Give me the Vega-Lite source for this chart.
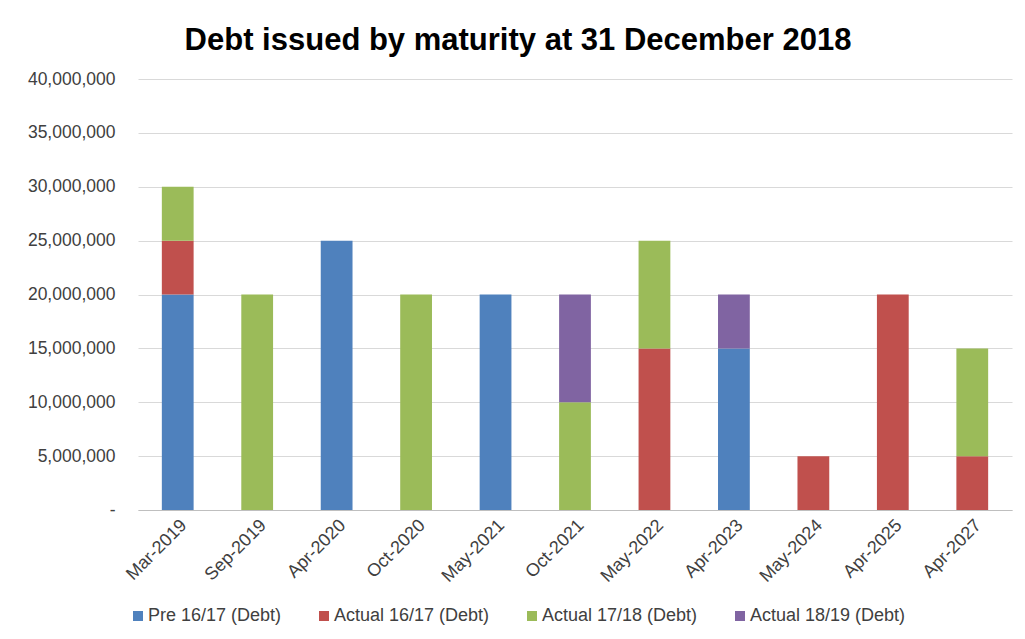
{
  "$schema": "https://vega.github.io/schema/vega-lite/v6.json",
  "width": 874,
  "height": 431,
  "autosize": {"type": "none"},
  "padding": {"left": 138, "top": 79, "right": 13, "bottom": 129},
  "background": "white",
  "title": {
    "text": "Debt issued by maturity at 31 December 2018",
    "font": "Liberation Sans",
    "fontSize": 31,
    "fontWeight": "bold",
    "color": "#000000",
    "anchor": "middle",
    "baseline": "alphabetic",
    "offset": 29,
    "dx": -57,
    "dy": 40
  },
  "data": {
    "values": [
      {"maturity": "Mar-2019", "series": "Pre 16/17 (Debt)", "ord": 1, "amount": 20000000},
      {"maturity": "Mar-2019", "series": "Actual 16/17 (Debt)", "ord": 2, "amount": 5000000},
      {"maturity": "Mar-2019", "series": "Actual 17/18 (Debt)", "ord": 3, "amount": 5000000},
      {"maturity": "Sep-2019", "series": "Actual 17/18 (Debt)", "ord": 3, "amount": 20000000},
      {"maturity": "Apr-2020", "series": "Pre 16/17 (Debt)", "ord": 1, "amount": 25000000},
      {"maturity": "Oct-2020", "series": "Actual 17/18 (Debt)", "ord": 3, "amount": 20000000},
      {"maturity": "May-2021", "series": "Pre 16/17 (Debt)", "ord": 1, "amount": 20000000},
      {"maturity": "Oct-2021", "series": "Actual 17/18 (Debt)", "ord": 3, "amount": 10000000},
      {"maturity": "Oct-2021", "series": "Actual 18/19 (Debt)", "ord": 4, "amount": 10000000},
      {"maturity": "May-2022", "series": "Actual 16/17 (Debt)", "ord": 2, "amount": 15000000},
      {"maturity": "May-2022", "series": "Actual 17/18 (Debt)", "ord": 3, "amount": 10000000},
      {"maturity": "Apr-2023", "series": "Pre 16/17 (Debt)", "ord": 1, "amount": 15000000},
      {"maturity": "Apr-2023", "series": "Actual 18/19 (Debt)", "ord": 4, "amount": 5000000},
      {"maturity": "May-2024", "series": "Actual 16/17 (Debt)", "ord": 2, "amount": 5000000},
      {"maturity": "Apr-2025", "series": "Actual 16/17 (Debt)", "ord": 2, "amount": 20000000},
      {"maturity": "Apr-2027", "series": "Actual 16/17 (Debt)", "ord": 2, "amount": 5000000},
      {"maturity": "Apr-2027", "series": "Actual 17/18 (Debt)", "ord": 3, "amount": 10000000}
    ]
  },
  "mark": {"type": "bar"},
  "encoding": {
    "x": {
      "field": "maturity",
      "type": "nominal",
      "sort": ["Mar-2019", "Sep-2019", "Apr-2020", "Oct-2020", "May-2021", "Oct-2021", "May-2022", "Apr-2023", "May-2024", "Apr-2025", "Apr-2027"],
      "scale": {"paddingInner": 0.6, "paddingOuter": 0.3},
      "axis": {
        "title": null,
        "labelAngle": -45,
        "labelFont": "Liberation Sans",
        "labelFontSize": 18,
        "labelColor": "#404040",
        "labelPadding": 6,
        "ticks": false,
        "domainColor": "#bfbfbf",
        "domainWidth": 1,
        "grid": false
      }
    },
    "y": {
      "field": "amount",
      "type": "quantitative",
      "aggregate": "sum",
      "stack": "zero",
      "scale": {"domain": [0, 40000000], "nice": false},
      "axis": {
        "title": null,
        "values": [0, 5000000, 10000000, 15000000, 20000000, 25000000, 30000000, 35000000, 40000000],
        "labelExpr": "datum.value == 0 ? '-' : format(datum.value, ',')",
        "labelFont": "Liberation Sans",
        "labelFontSize": 17.5,
        "labelColor": "#404040",
        "labelPadding": 23,
        "ticks": false,
        "domain": false,
        "grid": true,
        "gridColor": "#d9d9d9",
        "gridWidth": 1
      }
    },
    "color": {
      "field": "series",
      "type": "nominal",
      "scale": {
        "domain": ["Pre 16/17 (Debt)", "Actual 16/17 (Debt)", "Actual 17/18 (Debt)", "Actual 18/19 (Debt)"],
        "range": ["#4F81BD", "#C0504D", "#9BBB59", "#8064A2"]
      },
      "legend": {
        "title": null,
        "orient": "none",
        "legendX": -9,
        "legendY": 528,
        "padding": 0,
        "direction": "horizontal",
        "columns": 4,
        "columnPadding": 33,
        "symbolType": "square",
        "symbolSize": 100,
        "symbolStrokeWidth": 0,
        "labelFont": "Liberation Sans",
        "labelFontSize": 18,
        "labelColor": "#404040",
        "labelOffset": 1,
        "labelLimit": 300
      }
    },
    "order": {"field": "ord", "type": "quantitative"}
  },
  "config": {
    "view": {"stroke": null},
    "bar": {"stroke": null}
  }
}
